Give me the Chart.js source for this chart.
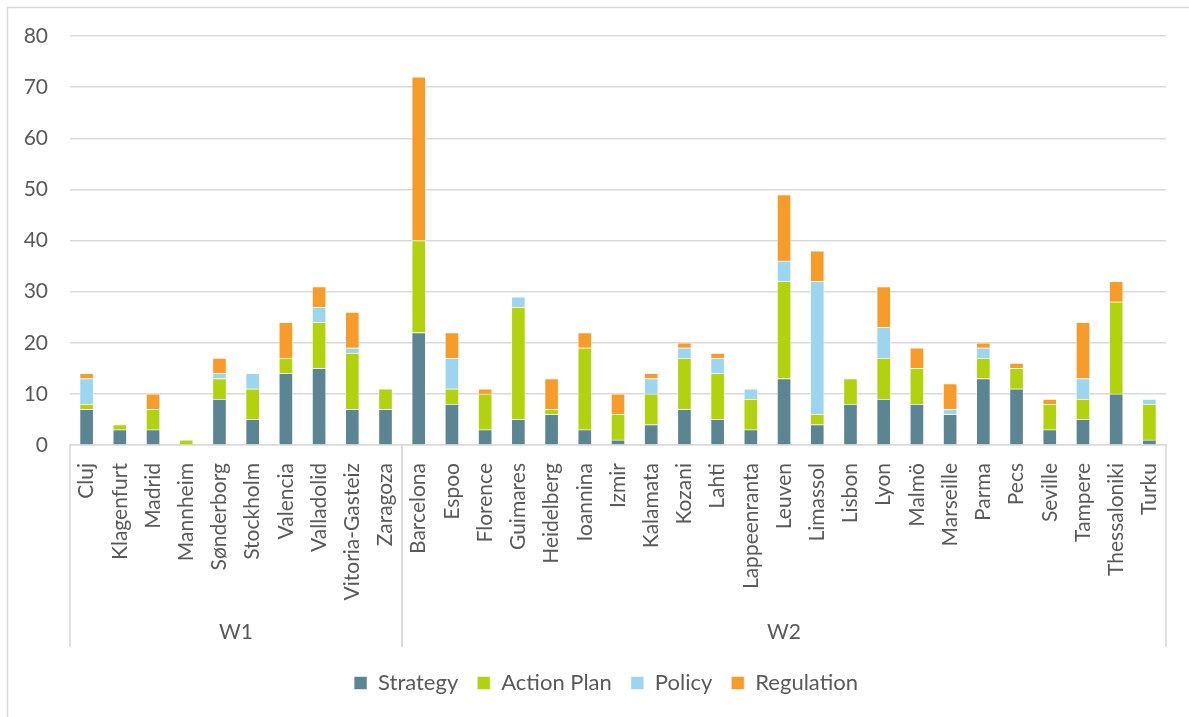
<!DOCTYPE html>
<html>
<head>
<meta charset="utf-8">
<script src="https://cdn.jsdelivr.net/npm/chart.js@4.4.0/dist/chart.umd.min.js"></script>
<style>
  body { margin: 0; background: #fff; }
  #wrap { width: 1189px; height: 717px; }
</style>
</head>
<body>
<div id="wrap"><canvas id="chart" width="1189" height="717"></canvas></div>
<script>
// cities, grouped by wave
var cities = ["Cluj", "Klagenfurt", "Madrid", "Mannheim", "Sønderborg", "Stockholm", "Valencia", "Valladolid", "Vitoria-Gasteiz", "Zaragoza",
    "Barcelona", "Espoo", "Florence", "Guimares", "Heidelberg", "Ioannina", "Izmir", "Kalamata", "Kozani", "Lahti", "Lappeenranta",
    "Leuven", "Limassol", "Lisbon", "Lyon", "Malmö", "Marseille", "Parma", "Pecs", "Seville", "Tampere", "Thessaloniki", "Turku"];
var groups = ["W1", "W2"];
var groupSizes = [10, 23];

var strategy   = [7, 3, 3, 0, 9, 5, 14, 15, 7, 7,
    22, 8, 3, 5, 6, 3, 1, 4, 7, 5, 3, 13, 4, 8, 9, 8, 6, 13, 11, 3, 5, 10, 1];
var actionPlan = [1, 1, 4, 1, 4, 6, 3, 9, 11, 4,
    18, 3, 7, 22, 1, 16, 5, 6, 10, 9, 6, 19, 2, 5, 8, 7, 0, 4, 4, 5, 4, 18, 7];
var policy     = [5, 0, 0, 0, 1, 3, 0, 3, 1, 0,
    0, 6, 0, 2, 0, 0, 0, 3, 2, 3, 2, 4, 26, 0, 6, 0, 1, 2, 0, 0, 4, 0, 1];
var regulation = [1, 0, 3, 0, 3, 0, 7, 4, 7, 0,
    32, 5, 1, 0, 6, 3, 4, 1, 1, 1, 0, 13, 6, 0, 8, 4, 5, 1, 1, 1, 11, 4, 0];

var yTicks = [0, 10, 20, 30, 40, 50, 60, 70, 80];

var textColor = "#595959";
var lineColor = "#d9d9d9";
var fontFamily = "Lato, 'Open Sans', sans-serif";

// draws the outer frame, group separators and group labels (W1, W2)
var groupAxis = {
    id: "groupAxis",
    afterLayout: function(chart) {
        // legend sits a bit right of the canvas centre in the original
        chart.legend.left += 19;
        chart.legend.right += 19;
    },
    beforeDraw: function(chart) {
        var ctx = chart.ctx;
        ctx.save();
        ctx.fillStyle = "#fff";
        ctx.fillRect(0, 0, chart.width, chart.height);
        ctx.strokeStyle = lineColor;
        ctx.lineWidth = 1.5;
        ctx.strokeRect(7.5, 7.5, chart.width + 10, chart.height + 10);
        ctx.restore();
    },
    afterDraw: function(chart) {
        var ctx = chart.ctx;
        var x = chart.scales.x;
        var top = chart.chartArea.bottom;
        var bottom = 647;
        var half = (x.getPixelForValue(1) - x.getPixelForValue(0)) / 2;
        ctx.save();
        ctx.strokeStyle = lineColor;
        ctx.lineWidth = 1.5;
        ctx.fillStyle = textColor;
        ctx.font = "21px " + fontFamily;
        ctx.textAlign = "center";
        ctx.textBaseline = "middle";
        var start = 0;
        for (var g = 0; g < groups.length; g++) {
            var left = x.getPixelForValue(start) - half;
            var right = x.getPixelForValue(start + groupSizes[g] - 1) + half;
            ctx.beginPath();
            ctx.moveTo(left, top);
            ctx.lineTo(left, bottom);
            ctx.moveTo(right, top);
            ctx.lineTo(right, bottom);
            ctx.stroke();
            ctx.fillText(groups[g], (left + right) / 2, 632);
            start += groupSizes[g];
        }
        ctx.restore();
    }
};

function series(label, data, color) {
    return {
        label: label,
        data: data,
        backgroundColor: color,
        borderColor: "rgba(255,255,255,0.55)",
        borderWidth: 1,
        barThickness: 14
    };
}

new Chart(document.getElementById("chart"), {
    type: "bar",
    data: {
        labels: cities,
        datasets: [
            series("Strategy", strategy, "#5b8592"),
            series("Action Plan", actionPlan, "#b2d10f"),
            series("Policy", policy, "#9dd5ef"),
            series("Regulation", regulation, "#f79c2b")
        ]
    },
    options: {
        responsive: false,
        animation: false,
        layout: {
            padding: { left: 8, right: 23, top: 36, bottom: 13 }
        },
        plugins: {
            legend: {
                position: "bottom",
                labels: {
                    color: textColor,
                    font: { family: fontFamily, size: 22 },
                    boxWidth: 13,
                    boxHeight: 13,
                    padding: 19
                }
            },
            tooltip: { enabled: false }
        },
        scales: {
            x: {
                stacked: true,
                grid: { display: false },
                border: { display: true, color: lineColor, width: 1.5 },
                ticks: {
                    autoSkip: false,
                    minRotation: 90,
                    maxRotation: 90,
                    padding: 10,
                    color: textColor,
                    font: { family: fontFamily, size: 21 }
                },
                afterFit: function(scale) { scale.height = 208; }
            },
            y: {
                stacked: true,
                min: yTicks[0],
                max: yTicks[yTicks.length - 1],
                grid: { color: lineColor, lineWidth: 1.5, drawTicks: false },
                border: { display: false },
                ticks: {
                    stepSize: 10,
                    padding: 22,
                    color: textColor,
                    font: { family: fontFamily, size: 21 }
                },
                afterFit: function(scale) { scale.width = 62; }
            }
        }
    },
    plugins: [groupAxis]
});
</script>
</body>
</html>
